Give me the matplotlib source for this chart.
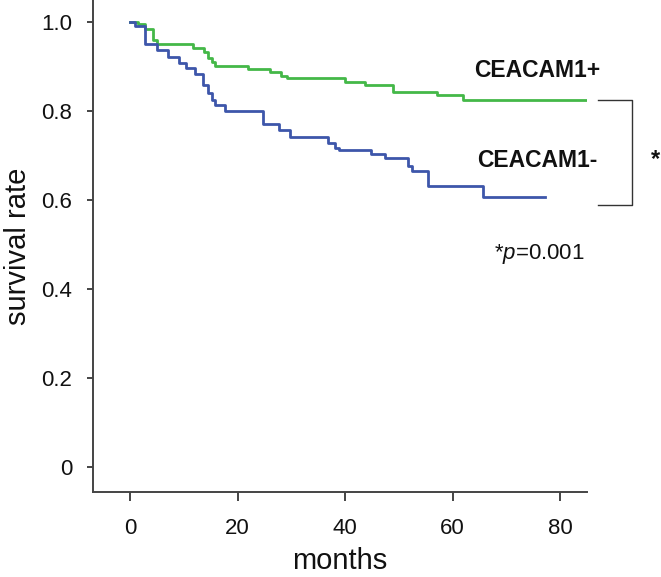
import matplotlib
matplotlib.use("Agg")
import matplotlib.pyplot as plt

plt.rcParams['font.family'] = ['Liberation Sans', 'DejaVu Sans']
plt.rcParams['mathtext.fontset'] = 'custom'
plt.rcParams['mathtext.rm'] = 'Liberation Sans'
plt.rcParams['mathtext.it'] = 'Liberation Sans:italic'

# CEACAM1+ (green) Kaplan-Meier steps
pos_times = [0, 1.5, 2.8, 4.3, 5.0, 11.7, 13.8, 14.6, 15.2, 15.8, 22.0, 26.0, 28.0, 29.2,
             40.0, 43.8, 49.0, 57.1, 62.0]
pos_surv = [1.0, 0.995, 0.985, 0.96, 0.95, 0.941, 0.932, 0.918, 0.91, 0.901, 0.894, 0.887,
            0.879, 0.873, 0.866, 0.858, 0.842, 0.835, 0.824]
pos_end = 85.0

# CEACAM1- (blue) Kaplan-Meier steps
neg_times = [0, 1.0, 2.8, 5.0, 7.0, 9.2, 10.5, 12.1, 13.6, 14.5, 15.2, 15.8, 17.7, 24.8,
             27.7, 29.8, 36.9, 38.2, 38.8, 44.8, 47.5, 51.8, 52.4, 55.5, 65.7]
neg_surv = [1.0, 0.99, 0.95, 0.937, 0.922, 0.907, 0.896, 0.882, 0.858, 0.840, 0.825, 0.813,
            0.799, 0.771, 0.758, 0.742, 0.727, 0.718, 0.712, 0.704, 0.695, 0.677, 0.666,
            0.632, 0.606]
neg_end = 77.2

x_ticks = [0, 20, 40, 60, 80]
y_ticks = [0, 0.2, 0.4, 0.6, 0.8, 1.0]
y_ticklabels = ['0', '0.2', '0.4', '0.6', '0.8', '1.0']

fig = plt.figure(figsize=(6.61, 5.77), dpi=100)
ax = fig.add_axes([93 / 661, 1 - 492 / 577, (587 - 93) / 661, 492 / 577])

green = '#44b848'
blue = '#3d56aa'

ax.step(pos_times + [pos_end], pos_surv + [pos_surv[-1]], where='post', color=green, lw=2.0)
ax.step(neg_times + [neg_end], neg_surv + [neg_surv[-1]], where='post', color=blue, lw=2.0)

ax.set_xlim(-6.88, 85.0)
ax.set_ylim(-0.055, 1.049)

ax.set_xticks(x_ticks)
ax.set_yticks(y_ticks)
ax.set_yticklabels(y_ticklabels)

for s in ['top', 'right']:
    ax.spines[s].set_visible(False)
for s in ['left', 'bottom']:
    ax.spines[s].set_color('#444444')
    ax.spines[s].set_linewidth(1.4)

ax.tick_params(axis='y', length=4.3, width=1.4, color='#444444', labelsize=16, pad=10.5,
               labelcolor='#111111')
ax.tick_params(axis='x', length=6.5, width=1.4, color='#444444', labelsize=16, pad=12,
               labelcolor='#111111')

ax.set_xlabel('months', fontsize=21, color='#111111', labelpad=6)
ax.set_ylabel('survival rate', fontsize=21, color='#111111', labelpad=7)

ax.text(75.7, 0.890, 'CEACAM1+', fontsize=16.5, fontweight='bold', ha='center', va='center',
        color='#111111')
ax.text(75.7, 0.688, 'CEACAM1-', fontsize=16.5, fontweight='bold', ha='center', va='center',
        color='#111111')
ax.text(76.1, 0.479, r'*$p$=0.001', fontsize=16, ha='center', va='center', color='#111111')

ax.plot([87.1, 93.4, 93.4, 87.1], [0.825, 0.825, 0.589, 0.589], color='#333333', lw=1.0,
        clip_on=False)
ax.text(97.7, 0.69, '*', fontsize=17, fontweight='bold', ha='center', va='center',
        color='#111111', clip_on=False)

fig.savefig('out.png', dpi=100)
